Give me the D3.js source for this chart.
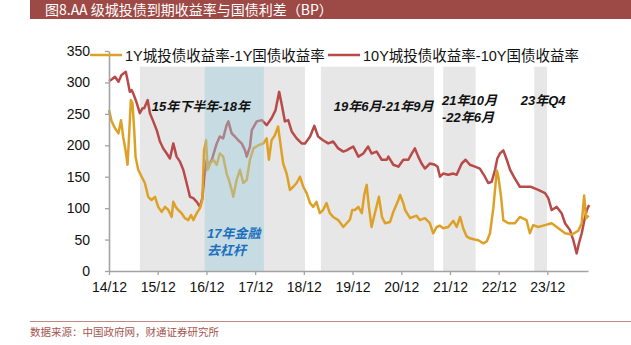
<!DOCTYPE html>
<html>
<head>
<meta charset="utf-8">
<script src="https://cdn.jsdelivr.net/npm/d3@7"></script>
<style>
  html, body { margin: 0; padding: 0; background: #fff; }
  svg { display: block; }
</style>
</head>
<body>
<div id="chart"></div>
<script>
// ---------------- DATA ----------------
const titleText = "图8.AA 级城投债到期收益率与国债利差（BP）";
const sourceText = "数据来源：中国政府网，财通证券研究所";
const seriesNames = ["1Y城投债收益率-1Y国债收益率", "10Y城投债收益率-10Y国债收益率"];

const yTicks = [0, 50, 100, 150, 200, 250, 300, 350];
const xTickDates = ["2014-12-01","2015-12-01","2016-12-01","2017-12-01","2018-12-01",
                    "2019-12-01","2020-12-01","2021-12-01","2022-12-01","2023-12-01"];

const oneYDates = ["2014-12-01","2014-12-21","2015-01-15","2015-02-10","2015-03-01","2015-03-17","2015-04-04","2015-04-19","2015-04-29","2015-05-14","2015-05-26","2015-06-08","2015-06-18","2015-07-08","2015-08-03","2015-08-27","2015-09-21","2015-10-16","2015-11-11","2015-12-05","2015-12-31","2016-01-25","2016-02-19","2016-03-15","2016-03-27","2016-04-14","2016-05-03","2016-05-28","2016-06-23","2016-07-17","2016-08-07","2016-08-24","2016-09-19","2016-10-13","2016-10-31","2016-11-13","2016-11-28","2016-12-10","2016-12-28","2017-01-22","2017-02-16","2017-03-11","2017-04-05","2017-05-01","2017-05-18","2017-06-08","2017-06-20","2017-07-15","2017-08-09","2017-09-03","2017-09-29","2017-10-23","2017-11-18","2017-12-25","2018-02-01","2018-02-25","2018-03-14","2018-04-03","2018-04-28","2018-05-22","2018-06-05","2018-06-29","2018-07-25","2018-08-19","2018-09-13","2018-10-08","2018-11-02","2018-11-27","2018-12-22","2019-01-17","2019-02-10","2019-03-06","2019-03-31","2019-04-24","2019-05-20","2019-06-14","2019-07-09","2019-08-16","2019-09-23","2019-10-18","2019-11-12","2019-11-29","2019-12-19","2020-01-14","2020-02-09","2020-02-26","2020-03-16","2020-04-02","2020-04-22","2020-05-17","2020-06-16","2020-07-09","2020-08-01","2020-09-08","2020-10-02","2020-11-09","2020-11-22","2020-12-16","2020-12-29","2021-02-05","2021-03-25","2021-04-19","2021-05-27","2021-07-03","2021-07-28","2021-08-23","2021-09-17","2021-10-11","2021-11-18","2021-12-26","2022-01-20","2022-02-15","2022-03-10","2022-04-05","2022-04-29","2022-06-06","2022-07-01","2022-08-08","2022-09-03","2022-09-27","2022-10-22","2022-11-17","2022-11-29","2022-12-19","2023-01-05","2023-02-12","2023-04-02","2023-05-09","2023-06-28","2023-07-23","2023-08-17","2023-09-24","2023-11-14","2024-01-03","2024-02-22","2024-04-12","2024-06-01","2024-07-20","2024-08-15","2024-09-02","2024-09-17","2024-10-07"];
const oneYValues = [256,238,227,219,240,214,192,169,208,272,267,224,182,161,150,140,118,113,118,102,94,102,97,86,110,102,97,92,84,81,89,81,92,100,113,192,208,161,171,177,169,187,182,155,145,129,118,145,161,140,145,177,195,200,203,211,177,208,216,230,208,171,155,129,134,140,150,134,124,108,102,110,92,97,108,92,86,81,70,76,82,97,97,102,92,120,137,102,70,92,118,86,76,78,94,113,121,108,97,84,88,81,84,76,60,70,72,68,70,80,70,86,68,55,52,50,49,44,47,60,100,160,150,118,81,76,76,86,81,60,73,70,73,76,68,60,58,64,76,120,84,88];

const tenYDates = ["2014-12-01","2014-12-23","2015-01-15","2015-02-10","2015-03-05","2015-04-06","2015-04-19","2015-05-06","2015-05-19","2015-05-31","2015-06-26","2015-07-20","2015-08-10","2015-08-22","2015-09-17","2015-10-04","2015-10-29","2015-11-24","2015-12-18","2016-01-12","2016-02-07","2016-03-02","2016-03-27","2016-04-21","2016-05-16","2016-06-10","2016-07-05","2016-07-30","2016-08-24","2016-09-19","2016-10-13","2016-10-31","2016-11-15","2016-12-03","2016-12-15","2017-01-10","2017-02-16","2017-03-11","2017-04-05","2017-05-01","2017-05-14","2017-06-08","2017-07-02","2017-07-27","2017-08-22","2017-09-16","2017-09-29","2017-10-23","2017-11-06","2017-12-13","2018-01-20","2018-02-25","2018-04-03","2018-05-03","2018-05-30","2018-06-22","2018-07-12","2018-08-06","2018-09-01","2018-10-08","2018-11-15","2018-12-10","2019-01-17","2019-02-18","2019-03-18","2019-04-24","2019-06-02","2019-07-09","2019-08-16","2019-09-23","2019-10-18","2019-11-12","2019-12-07","2020-01-14","2020-02-20","2020-03-27","2020-04-22","2020-05-30","2020-07-07","2020-08-14","2020-08-26","2020-10-02","2020-11-09","2020-12-16","2021-01-23","2021-02-18","2021-03-13","2021-04-07","2021-05-02","2021-05-27","2021-07-03","2021-08-10","2021-08-30","2021-09-17","2021-10-11","2021-11-18","2021-12-26","2022-01-20","2022-02-27","2022-03-28","2022-04-29","2022-06-06","2022-07-13","2022-08-20","2022-09-14","2022-10-10","2022-11-04","2022-11-21","2022-12-11","2023-01-05","2023-01-31","2023-02-25","2023-04-02","2023-05-09","2023-06-11","2023-08-01","2023-09-24","2023-11-14","2023-12-08","2024-01-03","2024-02-10","2024-03-17","2024-04-12","2024-05-19","2024-06-13","2024-07-08","2024-07-25","2024-08-15","2024-09-04","2024-09-22","2024-10-10"];
const tenYValues = [302,305,309,301,312,317,304,285,288,283,268,251,259,259,272,251,238,224,206,195,187,179,203,182,174,161,140,118,116,110,102,116,150,177,166,177,203,214,211,232,238,219,214,208,203,192,182,198,224,238,240,232,243,256,285,261,238,240,222,211,203,203,214,231,214,208,203,206,195,190,192,195,198,182,187,198,187,190,177,177,182,169,166,177,177,187,195,182,171,163,171,169,166,150,155,153,155,153,171,177,169,166,163,150,140,142,161,179,187,192,177,161,147,134,134,134,129,124,116,97,102,92,76,65,49,28,44,60,81,97,105];

const bandStarts = ["2015-07-20","2019-04-08","2021-10-11","2023-08-25"];
const bandEnds   = ["2018-12-10","2021-08-03","2022-06-11","2023-11-28"];
const blueBandStart = "2016-11-18";
const blueBandEnd = "2018-02-04";

const bandLabels = [
  {lines: ["15年下半年-18年"], date: "2015-10-18"},
  {lines: ["19年6月-21年9月"], date: "2019-07-13"},
  {lines: ["21年10月", "-22年6月"], date: "2021-10-02"},
  {lines: ["23年Q4"], date: "2023-05-16"}
];
const blueLabel = {lines: ["17年金融", "去杠杆"], date: "2016-12-05"};

// ---------------- CHART ----------------
const W = 631, H = 345;
const parse = d3.timeParse("%Y-%m-%d");
const svg = d3.select("#chart").append("svg").attr("width", W).attr("height", H);

const orange = "#dea127";
const red = "#b84a4a";

const x = d3.scaleTime()
  .domain([parse("2014-12-01"), parse("2024-10-01")])
  .range([109, 588]);
const y = d3.scaleLinear().domain([0, 350]).range([271, 51]);

const latin = "'Liberation Sans', Arial, 'Noto Sans CJK SC', sans-serif";

// title bar
svg.append("rect").attr("x", 30).attr("y", 0).attr("width", W - 30).attr("height", 19).attr("fill", "#9d4a46");
svg.append("text").attr("x", 45).attr("y", 15).attr("fill", "#fff")
  .attr("font-family", "'Noto Sans CJK SC', 'Liberation Sans', sans-serif")
  .attr("font-size", 14).text(titleText);

// bands (grey under lines)
const bandTop = y(325);
const bands = bandStarts.map((s, i) => ({s: parse(s), e: parse(bandEnds[i])}));
svg.append("g").selectAll("rect").data(bands).join("rect")
  .attr("x", d => x(d.s)).attr("y", bandTop)
  .attr("width", d => x(d.e) - x(d.s)).attr("height", y(0) - bandTop)
  .attr("fill", "#e7e7e7");

// lines
const line = d3.line().x(d => x(d.date)).y(d => y(d.value)).curve(d3.curveLinear);
const oneY = oneYDates.map((d, i) => ({date: parse(d), value: oneYValues[i]}));
const tenY = tenYDates.map((d, i) => ({date: parse(d), value: tenYValues[i]}));

svg.append("path").datum(tenY).attr("d", line).attr("fill", "none")
  .attr("stroke", red).attr("stroke-width", 2.5).attr("stroke-linejoin", "round");
svg.append("path").datum(oneY).attr("d", line).attr("fill", "none")
  .attr("stroke", orange).attr("stroke-width", 2.5).attr("stroke-linejoin", "round");

// blue band on top, translucent
svg.append("rect")
  .attr("x", x(parse(blueBandStart))).attr("y", bandTop)
  .attr("width", x(parse(blueBandEnd)) - x(parse(blueBandStart)))
  .attr("height", y(0) - bandTop)
  .attr("fill", "rgb(155,205,220)").attr("fill-opacity", 0.42);

// axes
const yAxis = svg.append("g").attr("transform", "translate(109,0)")
  .call(d3.axisLeft(y).tickValues(yTicks).tickSize(4).tickPadding(15).tickSizeOuter(0));
const xAxis = svg.append("g").attr("transform", "translate(0,271)")
  .call(d3.axisBottom(x).tickValues(xTickDates.map(parse)).tickFormat(d3.timeFormat("%y/%m"))
    .tickSize(4).tickPadding(7).tickSizeOuter(0));
[yAxis, xAxis].forEach(a => {
  a.select(".domain").attr("stroke", "#a3a3a3").attr("stroke-width", 1.6);
  a.selectAll(".tick line").attr("stroke", "#a3a3a3").attr("stroke-width", 1.3);
  a.selectAll(".tick text").attr("font-family", latin).attr("font-size", 14).attr("fill", "#111");
});

// legend
const legend = svg.append("g");
const legendItems = [
  {name: seriesNames[0], color: orange, x0: 90},
  {name: seriesNames[1], color: red, x0: 328}
];
legendItems.forEach(it => {
  legend.append("line").attr("x1", it.x0).attr("x2", it.x0 + 32).attr("y1", 55).attr("y2", 55)
    .attr("stroke", it.color).attr("stroke-width", 2.5);
  legend.append("text").attr("x", it.x0 + 35).attr("y", 60.5)
    .attr("font-family", latin).attr("font-size", 14.5).attr("fill", "#111").text(it.name);
});

// band annotations
const annFont = "'Liberation Sans', Arial, 'Noto Sans CJK SC', sans-serif";
const annY = [106, 106, 100, 100];
bandLabels.forEach((b, i) => {
  b.lines.forEach((t, j) => {
    svg.append("text").attr("x", x(parse(b.date))).attr("y", annY[i] + j * 17)
      .attr("dominant-baseline", "central")
      .attr("font-family", annFont).attr("font-size", 13).attr("font-weight", "bold")
      .attr("font-style", "italic").attr("fill", "#111").text(t);
  });
});
blueLabel.lines.forEach((t, j) => {
  svg.append("text").attr("x", x(parse(blueLabel.date))).attr("y", 233 + j * 17)
    .attr("dominant-baseline", "central")
    .attr("font-family", annFont).attr("font-size", 13).attr("font-weight", "bold")
    .attr("font-style", "italic").attr("fill", "#1b6fbf").text(t);
});

// footer
svg.append("line").attr("x1", 30).attr("x2", W).attr("y1", 321.5).attr("y2", 321.5)
  .attr("stroke", "#c28884").attr("stroke-width", 1.2);
svg.append("text").attr("x", 30).attr("y", 336).attr("fill", "#a4544f")
  .attr("font-family", "'Noto Sans CJK SC', sans-serif").attr("font-size", 10.5).text(sourceText);
</script>
</body>
</html>
